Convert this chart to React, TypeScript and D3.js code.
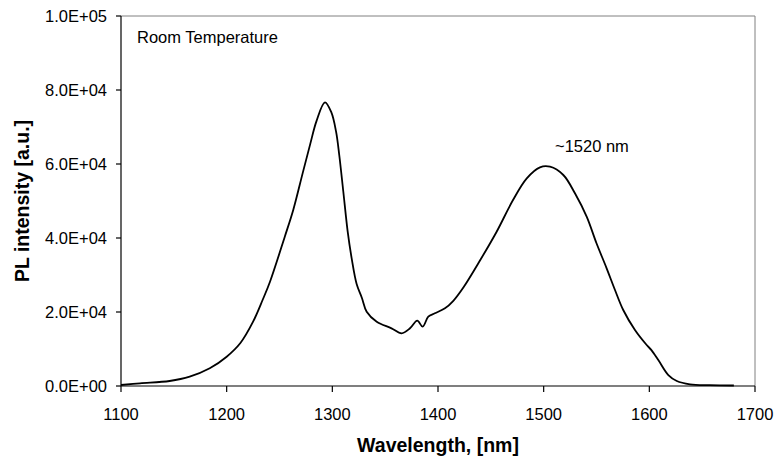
import React from "react";
import * as d3 from "d3";

const wavelength = [
  1100, 1118, 1146, 1165, 1184, 1200, 1213, 1225, 1234, 1241, 1255, 1263, 1272, 1279, 1285,
  1293, 1299, 1303.5, 1306.6, 1310.4, 1314.5, 1318.3, 1323, 1328, 1332.5, 1342, 1356, 1365.6,
  1373.5, 1380.4, 1385.5, 1390.8, 1397, 1406.6, 1414.5, 1424, 1440, 1455.5, 1471, 1484, 1496.5,
  1506, 1518.6, 1529.6, 1540.7, 1550, 1559.6, 1567.5, 1575.3, 1586.4, 1597.5, 1602, 1608.5,
  1618, 1626, 1638.5, 1657, 1680,
];
const intensity = [
  270, 730, 1350, 2510, 4780, 7920, 11620, 17380, 23240, 28190, 40350, 47570, 57600, 65300, 71600,
  76680, 74000, 68800, 62300, 52500, 41800, 34500, 27570, 23800, 20080, 17380, 15590, 14240,
  15590, 17650, 16030, 18730, 19650, 21000, 23030, 26620, 34050, 41700, 50270, 56130, 59110,
  59270, 57030, 52080, 45760, 38570, 31810, 25950, 20540, 15140, 11080, 9700, 7030,
  2970, 1350, 460, 220, 140,
];
const xTicks = [1100, 1200, 1300, 1400, 1500, 1600, 1700];
const yTicks = [0, 20000, 40000, 60000, 80000, 100000];
const yTickLabels = ["0.0E+00", "2.0E+04", "4.0E+04", "6.0E+04", "8.0E+04", "1.0E+05"];

export default function App() {
  const W = 779, H = 462;
  const left = 121, right = 755, top = 16, bottom = 386;
  const x = d3.scaleLinear().domain([1100, 1700]).range([left, right]);
  const y = d3.scaleLinear().domain([0, 100000]).range([bottom, top]);
  const pts = wavelength.map((w, i) => [w, intensity[i]] as [number, number]);
  const line = d3.line<[number, number]>()
    .x(d => x(d[0]))
    .y(d => y(d[1]))
    .curve(d3.curveCatmullRom.alpha(0.5));
  const font = "'Liberation Sans', Arial, sans-serif";
  return (
    <svg width={W} height={H} style={{ position: "absolute", left: 0, top: 0, background: "#fff" }}
      fontFamily={font}>
      <rect x={0} y={0} width={W} height={H} fill="#fff" />
      <line x1={left} y1={top} x2={right} y2={top} stroke="#808080" strokeWidth={1} />
      <line x1={right} y1={top} x2={right} y2={bottom} stroke="#808080" strokeWidth={1} />
      <line x1={left} y1={top} x2={left} y2={bottom} stroke="#000" strokeWidth={1.2} />
      <line x1={left} y1={bottom} x2={right} y2={bottom} stroke="#000" strokeWidth={1.2} />
      {yTicks.map((t, i) => (
        <g key={"y" + t}>
          <line x1={left - 5} x2={left} y1={y(t)} y2={y(t)} stroke="#000" strokeWidth={1.2} />
          <text x={107} y={y(t)} dy="0.36em" textAnchor="end" fontSize={16.5} fill="#000">
            {yTickLabels[i]}
          </text>
        </g>
      ))}
      {xTicks.map(t => (
        <g key={"x" + t}>
          <line x1={x(t)} x2={x(t)} y1={bottom} y2={bottom + 6} stroke="#000" strokeWidth={1.2} />
          <text x={x(t)} y={420} textAnchor="middle" fontSize={16.5} fill="#000">{t}</text>
        </g>
      ))}
      <path d={line(pts) || ""} fill="none" stroke="#000" strokeWidth={1.8} strokeLinejoin="round" />
      <text x={137} y={43} fontSize={16.5} fill="#000">Room Temperature</text>
      <text x={555} y={152} fontSize={16.5} fill="#000">~1520 nm</text>
      <text x={(left + right) / 2} y={452} textAnchor="middle" fontSize={19.5} fontWeight="bold" fill="#000">
        Wavelength, [nm]
      </text>
      <text transform={`translate(29,${(top + bottom) / 2}) rotate(-90)`} textAnchor="middle"
        fontSize={19.5} fontWeight="bold" fill="#000">
        PL intensity [a.u.]
      </text>
    </svg>
  );
}
